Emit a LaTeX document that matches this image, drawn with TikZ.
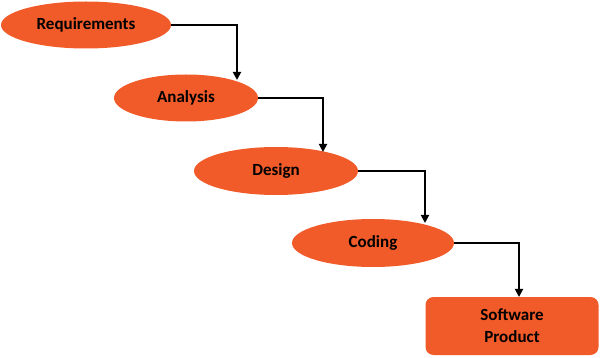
\documentclass[tikz,border=0pt]{standalone}
\usepackage{fontspec}
\setmainfont{Carlito}
\usetikzlibrary{shapes.geometric,arrows.meta}
\definecolor{boxorange}{HTML}{F15A29}
\begin{document}
\begin{tikzpicture}[x=1pt,y=-1pt,
  stage/.style={ellipse,fill=boxorange,inner sep=0pt,font=\fontsize{17}{20}\selectfont\bfseries,text=black},
  endbox/.style={rectangle,rounded corners=8pt,fill=boxorange,inner sep=0pt,align=center,font=\fontsize{17}{22}\selectfont\bfseries,text=black},
  flow/.style={line width=1.8pt,-{Triangle[length=8pt,width=8pt]}}]
\useasboundingbox (0,0) rectangle (600,358);
\node[stage,minimum width=170pt,minimum height=47pt] (req) at (86,25) {Requirements};
\node[stage,minimum width=144pt,minimum height=47pt] (ana) at (186,98) {Analysis};
\node[stage,minimum width=164pt,minimum height=48pt] (des) at (276,171) {Design};
\node[stage,minimum width=162pt,minimum height=48pt] (cod) at (373,243) {Coding};
\node[endbox,minimum width=173pt,minimum height=58pt] (sw) at (512,326) {Software\\Product};
\coordinate (e1) at (237,80);
\coordinate (e2) at (323,152);
\coordinate (e3) at (425,223);
\coordinate (e4) at (519,297);
\draw[flow] (req.east) -| (e1);
\draw[flow] (ana.east) -| (e2);
\draw[flow] (des.east) -| (e3);
\draw[flow] (cod.east) -| (e4);
\end{tikzpicture}
\end{document}
